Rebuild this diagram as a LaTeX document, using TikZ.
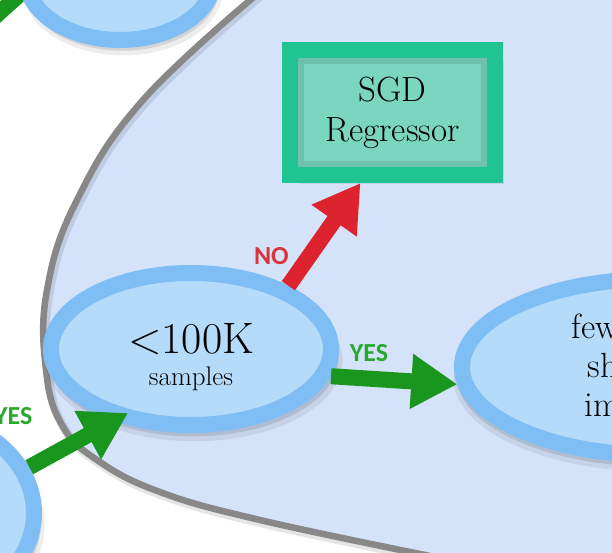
\documentclass[tikz,border=0pt]{standalone}
\usepackage{fontspec}
\newfontfamily\labelfont{Carlito}
\usetikzlibrary{arrows.meta, shapes.geometric, shadows}

\definecolor{regionblue}{RGB}{212,227,250}
\definecolor{ringblue}{RGB}{127,190,245}
\definecolor{ellblue}{RGB}{180,219,250}
\definecolor{rimblue}{RGB}{128,170,210}
\definecolor{boxgreen}{RGB}{32,196,144}
\definecolor{boxfill}{RGB}{122,214,190}
\definecolor{yesgreen}{RGB}{25,150,30}
\definecolor{yestext}{RGB}{40,168,45}
\definecolor{nored}{RGB}{221,35,45}
\definecolor{notext}{RGB}{216,52,60}
\definecolor{bordergray}{RGB}{136,136,136}

\pgfdeclareradialshading{ellshade}{\pgfpoint{0bp}{0bp}}{color(0bp)=(ellblue); color(39bp)=(ellblue); color(47bp)=(rimblue); color(50bp)=(rimblue); color(100bp)=(rimblue)}

\begin{document}
\begin{tikzpicture}[
    x=1pt, y=-1pt,
    decision/.style={ellipse, draw=ringblue, line width=16pt, shade, shading=ellshade, inner sep=0pt, align=center,
        general shadow={fill=black, opacity=.07, shadow scale=1.06, shadow xshift=3pt, shadow yshift=-11pt},
        general shadow={fill=black, opacity=.1, shadow scale=1.04, shadow xshift=2pt, shadow yshift=-8pt}},
    estimator/.style={rectangle, draw=boxgreen, fill=boxfill, line width=16pt, inner sep=0pt, align=center,
        font=\fontsize{35}{40}\selectfont,
        general shadow={fill=black, opacity=.08, shadow xshift=9pt, shadow yshift=-9pt},
        general shadow={fill=black, opacity=.12, shadow xshift=6pt, shadow yshift=-6pt},
        path picture={\draw[black, opacity=.09, line width=28pt] (path picture bounding box.south west) rectangle (path picture bounding box.north east);}},
    yesarr/.style={draw=yesgreen, line width=16pt, -{Triangle[width=52pt,length=46pt]}},
    noarr/.style={draw=nored, line width=16pt, -{Triangle[width=52pt,length=46pt]}},
    yeslabel/.style={text=yestext, font=\labelfont\bfseries\fontsize{26}{30}\selectfont, inner sep=0pt},
    nolabel/.style={text=notext, font=\labelfont\bfseries\fontsize{26}{30}\selectfont, inner sep=0pt}
]
\useasboundingbox (0,0) rectangle (612,552);
\fill[white] (0,0) rectangle (612,552);
\begin{scope}
\clip (0,0) rectangle (612,552);

% regression area
\fill[regionblue] plot[smooth, tension=0.7] coordinates {(262,-10) (143,100) (77,200) (47,290) (46,370) (62,425) (97,460) (160,492) (260,520) (430,556)} -- (630,556) -- (630,-10) -- cycle;
\draw[bordergray, line width=6.5pt, preaction={draw=black, opacity=.1, line width=9pt, transform canvas={shift={(2pt,-3pt)}}}]
    plot[smooth, tension=0.7] coordinates {(262,-10) (143,100) (77,200) (47,290) (46,370) (62,425) (97,460) (160,492) (260,520) (430,556)};

% arrow coming in from the left, under the top ellipse
\coordinate (offa) at (-40,48);
\coordinate (offb) at (30,-15);
\draw[draw=yesgreen, line width=16pt] (offa) -- (offb);

\node[decision, minimum width=188pt, minimum height=124pt] (topell) at (120,-22) {};
\node[decision, minimum width=248pt, minimum height=198pt] (quant) at (-90,513) {};

\node[decision, minimum width=280pt, minimum height=152pt, font=\fontsize{27}{32}\selectfont] (samples) at (191,349)
    {\rule{0pt}{46pt}{\fontsize{44}{32}\selectfont <100K}\\samples};
\node[decision, minimum width=386pt, minimum height=176pt, font=\fontsize{35}{39}\selectfont] (few) at (655,367)
    {\rule{0pt}{27pt}few features\\should be\\important};
\node[estimator, minimum width=205pt, minimum height=125pt] (sgd) at (392.5,112.5) {SGD\\Regressor};

\draw[yesarr] (quant.21) -- node[yeslabel, pos=0, xshift=-16pt, yshift=51pt] {YES} ([shift={(4.4pt,10.8pt)}]samples.228);
\draw[noarr] (samples.33) -- node[nolabel, pos=0, xshift=-17pt, yshift=29.5pt] {NO} ([xshift=-32pt]sgd.south);
\draw[yesarr] (samples.-11) -- node[yeslabel, pos=0.3, yshift=26pt] {YES} (few.185);

\end{scope}
\end{tikzpicture}
\end{document}
